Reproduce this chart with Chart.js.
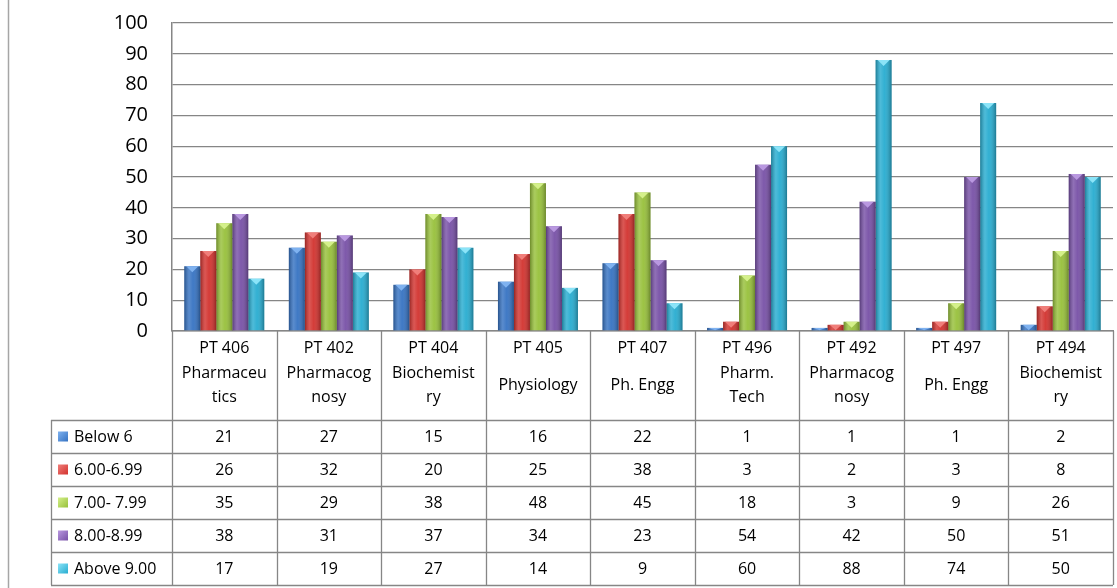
<!DOCTYPE html>
<html>
<head>
<meta charset="utf-8">
<script src="https://cdn.jsdelivr.net/npm/chart.js@4"></script>
<style>
  html, body { margin: 0; padding: 0; background: #fff; }
  #wrap { position: relative; width: 1117px; height: 588px; }
</style>
</head>
<body>
<div id="wrap"><canvas id="gradeChart" width="1117" height="588"></canvas></div>
<script>
// course codes and subject names (as wrapped in the table)
const codes = ['PT 406', 'PT 402', 'PT 404', 'PT 405', 'PT 407', 'PT 496', 'PT 492', 'PT 497', 'PT 494'];
const subjects = [
    ['Pharmaceu', 'tics'], ['Pharmacog', 'nosy'], ['Biochemist', 'ry'], ['Physiology'], ['Ph. Engg'],
    ['Pharm.', 'Tech'], ['Pharmacog', 'nosy'], ['Ph. Engg'], ['Biochemist', 'ry']
];
const seriesNames = ['Below 6', '6.00-6.99', '7.00- 7.99', '8.00-8.99', 'Above 9.00'];
const below6 = [21, 27, 15, 16, 22, 1, 1, 1, 2];
const six = [26, 32, 20, 25, 38, 3, 2, 3, 8];
const seven = [35, 29, 38, 48, 45, 18, 3, 9, 26];
const eight = [38, 31, 37, 34, 23, 54, 42, 50, 51];
const above9 = [17, 19, 27, 14, 9, 60, 88, 74, 50];
const yTicks = [0, 10, 20, 30, 40, 50, 60, 70, 80, 90, 100];

const colors = ['#3572c2', '#d2322e', '#97c03a', '#7750a6', '#27acd0'];
const tops = ['#7fb2f0', '#f07e7a', '#d4f08a', '#b998e0', '#8be4f8'];
const seriesData = [below6, six, seven, eight, above9];

const FONT = '"Open Sans", "Noto Sans", sans-serif';
const gridColor = '#868686';

// shading + triangle tops on the bars
const barLook = {
    id: 'barLook',
    afterDatasetsDraw(chart) {
        const ctx = chart.ctx;
        chart.data.datasets.forEach((ds, di) => {
            const meta = chart.getDatasetMeta(di);
            meta.data.forEach(bar => {
                const left = bar.x - bar.width / 2;
                const h = bar.base - bar.y;
                if (h <= 0) return;
                const g = ctx.createLinearGradient(left, 0, left + bar.width, 0);
                g.addColorStop(0, 'rgba(0,0,0,0.28)');
                g.addColorStop(0.3, 'rgba(255,255,255,0.18)');
                g.addColorStop(0.55, 'rgba(255,255,255,0.05)');
                g.addColorStop(1, 'rgba(0,0,0,0.3)');
                ctx.save();
                ctx.fillStyle = g;
                ctx.fillRect(left, bar.y, bar.width, h);
                // little triangle at the top
                const th = Math.min(6, h);
                ctx.fillStyle = tops[di];
                ctx.beginPath();
                ctx.moveTo(left + 2, bar.y);
                ctx.lineTo(left + bar.width - 2, bar.y);
                ctx.lineTo(bar.x, bar.y + th);
                ctx.closePath();
                ctx.fill();
                ctx.restore();
            });
        });
    }
};

// data table under the plot
const dataTable = {
    id: 'dataTable',
    afterDraw(chart) {
        const ctx = chart.ctx;
        const area = chart.chartArea;
        const xs = chart.scales.x;
        const colW = (area.right - area.left) / codes.length;
        const headTop = area.bottom;
        const headBottom = headTop + 89;
        const rowH = 33;
        const tableBottom = headBottom + rowH * seriesNames.length;
        const legendLeft = 51;

        ctx.save();
        // frame line on the left of the picture
        ctx.strokeStyle = '#a6a6a6';
        ctx.lineWidth = 1.5;
        ctx.beginPath();
        ctx.moveTo(8.5, 0);
        ctx.lineTo(8.5, 588);
        ctx.stroke();

        ctx.strokeStyle = gridColor;
        ctx.lineWidth = 1.3;
        ctx.beginPath();
        // vertical lines
        for (let i = 0; i <= codes.length; i++) {
            const x = Math.round(area.left + colW * i) + 0.5;
            ctx.moveTo(x, headTop);
            ctx.lineTo(x, tableBottom);
        }
        ctx.moveTo(legendLeft + 0.5, headBottom);
        ctx.lineTo(legendLeft + 0.5, tableBottom);
        // horizontal lines
        for (let r = 0; r <= seriesNames.length; r++) {
            const y = Math.round(headBottom + rowH * r) + 0.5;
            ctx.moveTo(legendLeft, y);
            ctx.lineTo(area.right, y);
        }
        ctx.stroke();

        ctx.fillStyle = '#000';
        ctx.textAlign = 'center';
        ctx.textBaseline = 'middle';
        ctx.font = '16px ' + FONT;
        codes.forEach((code, i) => {
            const cx = xs.getPixelForValue(i);
            ctx.fillText(code, cx, headTop + 17);
            const lines = subjects[i];
            if (lines.length === 1) {
                ctx.fillText(lines[0], cx, headTop + 54);
            } else {
                ctx.fillText(lines[0], cx, headTop + 42);
                ctx.fillText(lines[1], cx, headTop + 66);
            }
            seriesData.forEach((vals, r) => {
                ctx.fillText(String(vals[i]), cx, headBottom + rowH * r + rowH / 2 + 1);
            });
        });

        // legend keys
        ctx.textAlign = 'left';
        seriesNames.forEach((name, r) => {
            const cy = headBottom + rowH * r + rowH / 2;
            const g = ctx.createLinearGradient(58, cy - 5, 68, cy + 5);
            g.addColorStop(0, tops[r]);
            g.addColorStop(1, colors[r]);
            ctx.fillStyle = g;
            ctx.fillRect(58, cy - 5, 10, 10);
            ctx.fillStyle = '#000';
            ctx.fillText(name, 74, cy + 1);
        });
        ctx.restore();
    }
};

const ctx = document.getElementById('gradeChart').getContext('2d');
new Chart(ctx, {
    type: 'bar',
    data: {
        labels: codes,
        datasets: seriesNames.map((name, i) => ({
            label: name,
            data: seriesData[i],
            backgroundColor: colors[i],
            borderWidth: 0,
            categoryPercentage: 0.765,
            barPercentage: 1
        }))
    },
    options: {
        responsive: false,
        animation: false,
        layout: { padding: { left: 0, right: 4, top: 23, bottom: 257 } },
        plugins: { legend: { display: false }, tooltip: { enabled: false } },
        scales: {
            x: {
                display: true,
                grid: { display: false, drawTicks: false },
                border: { display: true, color: gridColor, width: 1.5 },
                ticks: { display: false }
            },
            y: {
                min: 0,
                max: 100,
                afterFit: s => { s.width = 172; s.paddingTop = 0; s.paddingBottom = 0; },
                afterBuildTicks: s => { s.ticks = yTicks.map(v => ({ value: v })); },
                grid: { color: gridColor, lineWidth: 1.3, drawTicks: false },
                border: { display: true, color: gridColor, width: 1.5 },
                ticks: { padding: 24, color: '#000', font: { family: FONT, size: 20 } }
            }
        }
    },
    plugins: [barLook, dataTable]
});
</script>
</body>
</html>
